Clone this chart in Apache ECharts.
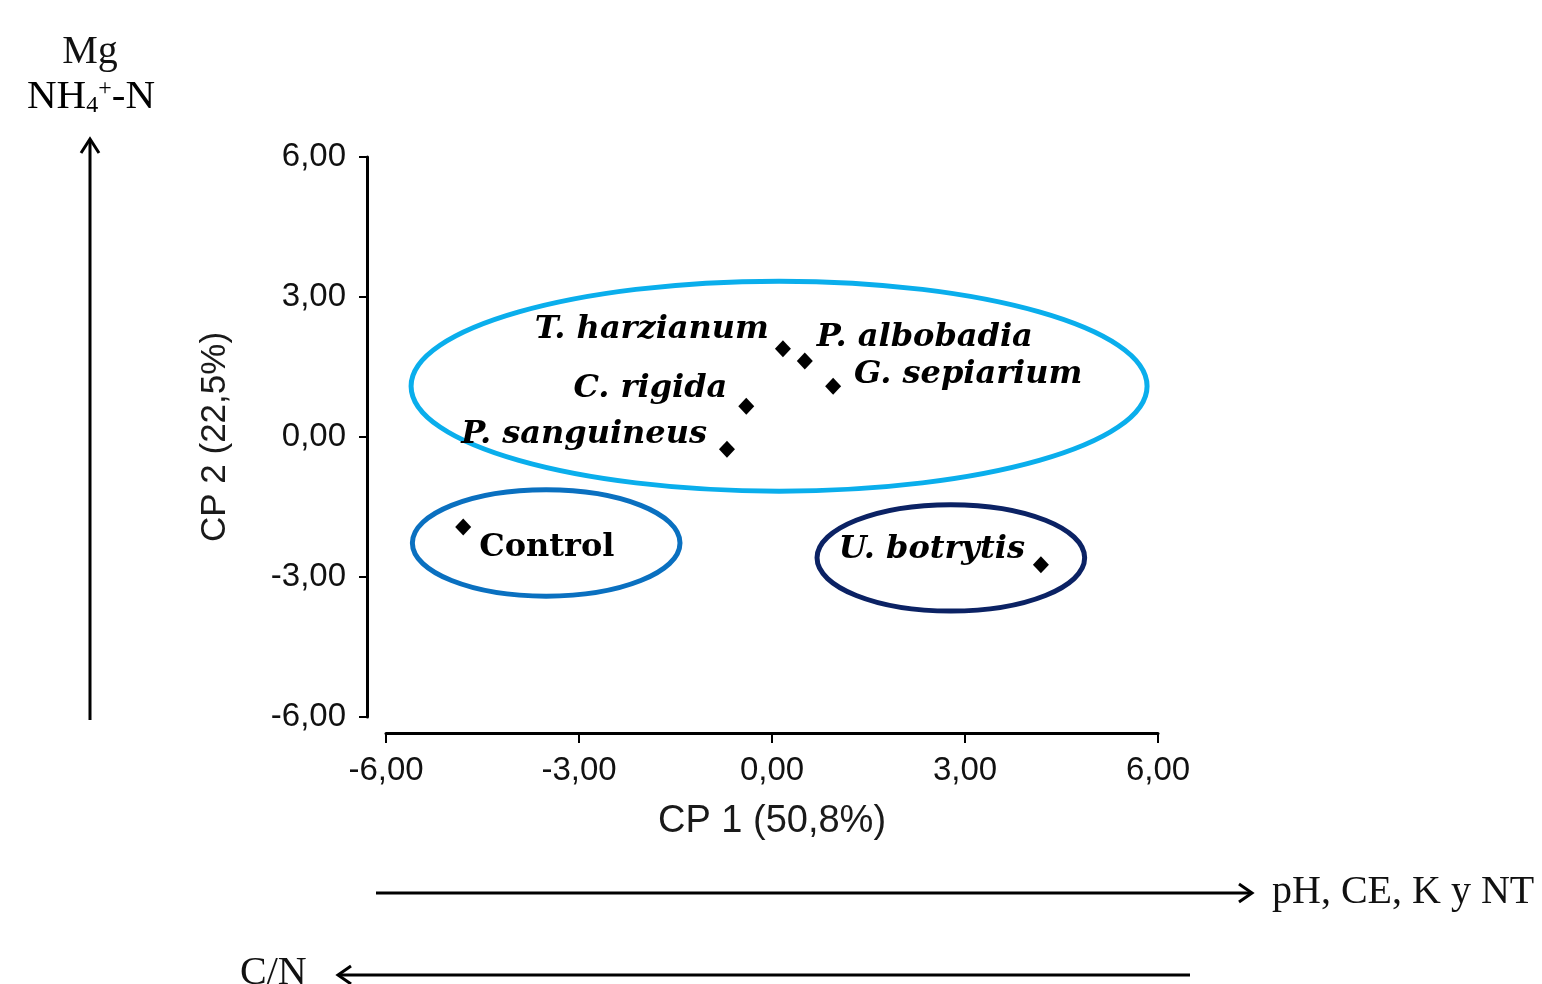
<!DOCTYPE html>
<html>
<head>
<meta charset="utf-8">
<script src="https://cdn.jsdelivr.net/npm/echarts@6/dist/echarts.min.js"></script>
<style>
html,body{margin:0;padding:0;background:#fff;}
#chart{width:1542px;height:984px;}
</style>
</head>
<body>
<div id="chart"></div>
<script>
// ---- data ----
const species = ['T. harzianum', 'P. albobadia', 'G. sepiarium', 'C. rigida', 'P. sanguineus', 'Control', 'U. botrytis'];
const cp1 = [0.17, 0.51, 0.95, -0.40, -0.70, -4.80, 4.18];
const cp2 = [1.89, 1.63, 1.09, 0.66, -0.26, -1.93, -2.74];
const xTicks = [-6, -3, 0, 3, 6];
const yTicks = [-6, -3, 0, 3, 6];
// group ellipses: centre x, centre y, radius x, radius y (data units)
const groupNames = ['Hongos grupo A', 'Control', 'U. botrytis'];
const groupCx = [0.11, -3.51, 2.78];
const groupCy = [1.09, -2.27, -2.59];
const groupRx = [5.72, 2.08, 2.08];
const groupRy = [2.25, 1.14, 1.14];

// ---- styles ----
const groupColors = ['#0AAEEC', '#0A70C0', '#0B2264'];
const labelPlace = {
  'T. harzianum': {position: 'left', distance: 6, offset: [0, -19]},
  'P. albobadia': {position: 'right', distance: 4, offset: [0, -23]},
  'G. sepiarium': {position: 'right', distance: 13, offset: [0, -11]},
  'C. rigida': {position: 'left', distance: 11, offset: [0, -18]},
  'P. sanguineus': {position: 'left', distance: 12, offset: [0, -14]},
  'Control': {position: 'right', distance: 8, offset: [0, 21], italic: false},
  'U. botrytis': {position: 'left', distance: 8, offset: [0, -15]}
};
const fmt = v => v.toFixed(2).replace('.', ',');
const sans = '"Liberation Sans", Arial, sans-serif';
const serif = '"Liberation Serif", "Times New Roman", serif';
const labelSerif = '"DejaVu Serif", "Liberation Serif", serif';

const points = species.map((n, i) => {
  const p = labelPlace[n];
  return {
    name: n,
    value: [cp1[i], cp2[i]],
    label: {
      show: true,
      formatter: n,
      position: p.position,
      distance: p.distance,
      offset: p.offset,
      fontFamily: labelSerif,
      fontWeight: 'bold',
      fontStyle: p.italic === false ? 'normal' : 'italic',
      fontSize: 32,
      color: '#000',
      opacity: 1
    }
  };
});

const ellipses = groupNames.map((n, i) => ({name: n, value: [groupCx[i], groupCy[i], groupRx[i], groupRy[i]]}));

const chart = echarts.init(document.getElementById('chart'));
chart.setOption({
  animation: false,
  backgroundColor: '#fff',
  grid: {left: 386, top: 157, width: 772, height: 560, containLabel: false},
  xAxis: {
    type: 'value', min: -6, max: 6, interval: 3, offset: 16,
    name: 'CP 1 (50,8%)', nameLocation: 'middle', nameGap: 70,
    nameTextStyle: {fontFamily: sans, fontSize: 38, color: '#1a1a1a'},
    axisLine: {show: true, onZero: false, lineStyle: {color: '#000', width: 3}},
    axisTick: {show: true, length: 10, lineStyle: {color: '#000', width: 2}},
    axisLabel: {fontFamily: sans, fontSize: 33, color: '#111', margin: 21, formatter: v => fmt(v)},
    splitLine: {show: false}
  },
  yAxis: {
    type: 'value', min: -6, max: 6, interval: 3, offset: 19,
    name: 'CP 2 (22,5%)', nameLocation: 'middle', nameGap: 134, nameRotate: 90,
    nameTextStyle: {fontFamily: sans, fontSize: 35, color: '#1a1a1a'},
    axisLine: {show: true, onZero: false, lineStyle: {color: '#000', width: 3}},
    axisTick: {show: true, length: 8, lineStyle: {color: '#000', width: 2}},
    axisLabel: {fontFamily: sans, fontSize: 33, color: '#111', margin: 21, formatter: v => fmt(v)},
    splitLine: {show: false}
  },
  series: [
    {
      type: 'custom',
      data: ellipses,
      silent: true,
      z: 1,
      renderItem: function (params, api) {
        const c = api.coord([api.value(0), api.value(1)]);
        const s = api.size([api.value(2), api.value(3)]);
        return {
          type: 'ellipse',
          shape: {cx: c[0], cy: c[1], rx: s[0], ry: s[1]},
          style: {fill: null, stroke: groupColors[params.dataIndex], lineWidth: 5}
        };
      }
    },
    {
      type: 'scatter',
      symbol: 'diamond',
      symbolSize: [16, 17],
      itemStyle: {color: '#000', opacity: 1},
      z: 3,
      data: points
    }
  ],
  graphic: [
    // vertical arrow
    {type: 'line', shape: {x1: 90, y1: 720, x2: 90, y2: 140}, style: {stroke: '#000', lineWidth: 3}},
    {type: 'polyline', shape: {points: [[81, 153], [90, 139], [99, 153]]}, style: {stroke: '#000', lineWidth: 3, fill: null}},
    {type: 'text', style: {text: 'Mg', x: 90, y: 52, align: 'center', verticalAlign: 'middle', font: '40px ' + serif, fill: '#111'}},
    {type: 'text', style: {
      text: '{n|NH}{sub|4}{sup|+}{n|-N}', x: 91, y: 97, align: 'center', verticalAlign: 'middle',
      rich: {
        n: {fontFamily: serif, fontSize: 41, color: '#111'},
        sub: {fontFamily: serif, fontSize: 24, color: '#111', verticalAlign: 'bottom', padding: [14, 0, 0, 0]},
        sup: {fontFamily: serif, fontSize: 24, color: '#111', verticalAlign: 'top', padding: [0, 0, 14, 0]}
      }
    }},
    // horizontal arrow to right
    {type: 'line', shape: {x1: 376, y1: 893, x2: 1250, y2: 893}, style: {stroke: '#000', lineWidth: 3}},
    {type: 'polyline', shape: {points: [[1239, 884], [1252, 893], [1239, 902]]}, style: {stroke: '#000', lineWidth: 3, fill: null}},
    {type: 'text', style: {text: 'pH, CE, K y NT', x: 1272, y: 892, align: 'left', verticalAlign: 'middle', font: '40px ' + serif, fill: '#111'}},
    // horizontal arrow to left
    {type: 'line', shape: {x1: 1190, y1: 975, x2: 340, y2: 975}, style: {stroke: '#000', lineWidth: 3}},
    {type: 'polyline', shape: {points: [[351, 966], [338, 975], [351, 984]]}, style: {stroke: '#000', lineWidth: 3, fill: null}},
    {type: 'text', style: {text: 'C/N', x: 240, y: 973, align: 'left', verticalAlign: 'middle', font: '40px ' + serif, fill: '#111'}}
  ]
});
</script>
</body>
</html>
